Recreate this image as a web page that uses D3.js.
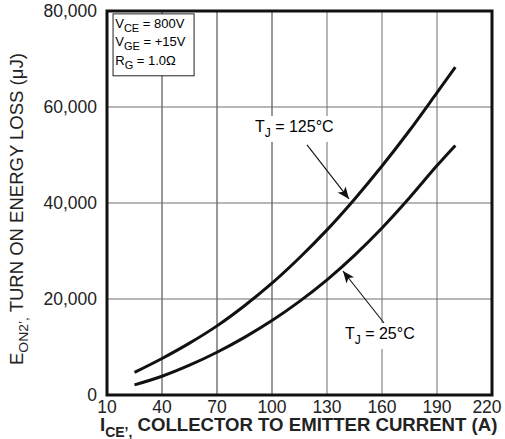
<!DOCTYPE html>
<html>
<head>
<meta charset="utf-8">
<script src="https://cdn.jsdelivr.net/npm/d3@7"></script>
<style>
  body { margin: 0; background: #fff; }
  svg { display: block; font-family: "Liberation Sans", Arial, Helvetica, sans-serif; }
</style>
</head>
<body>
<script>
// data (A, uJ)
const currents = [25, 40, 55, 70, 85, 100, 115, 130, 145, 160, 175, 190, 200];
const loss125 = [4700, 7600, 10800, 14400, 18600, 23300, 28600, 34400, 40800, 47700, 55100, 63000, 68300];
const loss25 = [2100, 3900, 6200, 8900, 12000, 15500, 19500, 24000, 29100, 34800, 41100, 47800, 52000];

const xTicks = [10, 40, 70, 100, 130, 160, 190, 220];
const yTicks = [0, 20000, 40000, 60000, 80000];

// annotation anchors in data units: label pos, arrow start, arrow tip
const labels = ["125°C", "25°C"];
const labelAt = [[90.7, 54800], [139.8, 11670]];
const arrowFrom = [[119.1, 52100], [161.1, 15000]];
const arrowTo = [[142, 40850], [138.7, 25830]];

const conditions = [["V", "CE", " = 800V"], ["V", "GE", " = +15V"], ["R", "G", " = 1.0Ω"]];

const W = 505, H = 439;
const svg = d3.select("body").append("svg").attr("width", W).attr("height", H);

const x = d3.scaleLinear().domain([10, 220]).range([107, 492]);
const y = d3.scaleLinear().domain([0, 80000]).range([395, 11]);

// grid
svg.append("g").selectAll("line")
  .data(xTicks.slice(1, -1))
  .join("line")
  .attr("x1", d => x(d)).attr("x2", d => x(d))
  .attr("y1", y(0)).attr("y2", y(80000))
  .attr("stroke", d => d <= 100 ? "#333" : "#6e6e6e")
  .attr("stroke-width", 1);

svg.append("g").selectAll("line")
  .data(yTicks.slice(1, -1))
  .join("line")
  .attr("x1", x(10)).attr("x2", x(220))
  .attr("y1", d => y(d)).attr("y2", d => y(d))
  .attr("stroke", "#6e6e6e")
  .attr("stroke-width", 1);

// conditions box
const box = svg.append("g");
box.append("rect")
  .attr("x", x(13.3)).attr("y", y(79400))
  .attr("width", x(57.5) - x(13.3)).attr("height", y(66500) - y(79400))
  .attr("fill", "#fff").attr("stroke", "#222").attr("stroke-width", 1);
conditions.forEach((c, i) => {
  const t = box.append("text")
    .attr("x", x(14.5)).attr("y", y(76500 - i * 3850))
    .attr("font-size", 13);
  t.append("tspan").text(c[0]);
  t.append("tspan").attr("font-size", 11).attr("dy", 4).text(c[1]);
  t.append("tspan").attr("dy", -4).text(c[2]);
});

// curves
const line = d3.line().x(d => x(d[0])).y(d => y(d[1])).curve(d3.curveCatmullRom.alpha(0.5));
[loss125, loss25].forEach(s => {
  svg.append("path")
    .datum(currents.map((c, i) => [c, s[i]]))
    .attr("d", line)
    .attr("fill", "none")
    .attr("stroke", "#111")
    .attr("stroke-width", 3);
});

// arrow marker
svg.append("defs").append("marker")
  .attr("id", "head")
  .attr("viewBox", "0 0 12 10")
  .attr("refX", 12).attr("refY", 5)
  .attr("markerWidth", 13).attr("markerHeight", 10)
  .attr("markerUnits", "userSpaceOnUse")
  .attr("orient", "auto")
  .append("path").attr("d", "M0,0 L12,5 L0,10 L3,5 Z").attr("fill", "#111");

labels.forEach((lab, i) => {
  const g = svg.append("g");
  const t = g.append("text")
    .attr("x", x(labelAt[i][0])).attr("y", y(labelAt[i][1]))
    .attr("font-size", 16);
  t.append("tspan").text("T");
  t.append("tspan").attr("font-size", 12).attr("dy", 5).text("J");
  t.append("tspan").attr("dy", -5).text(" = " + lab);
  const bb = t.node().getBBox();
  g.insert("rect", "text")
    .attr("x", bb.x - 3).attr("y", bb.y - 2)
    .attr("width", bb.width + 6).attr("height", bb.height + 4)
    .attr("fill", "#fff");
  g.append("line")
    .attr("x1", x(arrowFrom[i][0])).attr("y1", y(arrowFrom[i][1]))
    .attr("x2", x(arrowTo[i][0])).attr("y2", y(arrowTo[i][1]))
    .attr("stroke", "#111").attr("stroke-width", 1.1)
    .attr("marker-end", "url(#head)");
});

// frame
svg.append("rect")
  .attr("x", x(10)).attr("y", y(80000))
  .attr("width", x(220) - x(10)).attr("height", y(0) - y(80000))
  .attr("fill", "none").attr("stroke", "#111").attr("stroke-width", 3);

// tick labels
svg.append("g").selectAll("text")
  .data(yTicks)
  .join("text")
  .attr("x", 97).attr("y", d => y(d) + 6)
  .attr("text-anchor", "end")
  .attr("font-size", 17.5)
  .attr("fill", "#222")
  .text(d => d3.format(",")(d));

svg.append("g").selectAll("text")
  .data(xTicks)
  .join("text")
  .attr("x", d => Math.min(x(d), 487)).attr("y", 413)
  .attr("text-anchor", "middle")
  .attr("font-size", 17.5)
  .attr("fill", "#222")
  .text(d => d);

// axis titles
const xt = svg.append("text")
  .attr("x", 100).attr("y", 431)
  .attr("font-size", 18.6).attr("font-weight", "bold").attr("fill", "#222");
xt.append("tspan").text("I");
xt.append("tspan").attr("font-size", 14).attr("dy", 6).text("CE’,");
xt.append("tspan").attr("dy", -6).text(" COLLECTOR TO EMITTER CURRENT (A)");

const yt = svg.append("text")
  .attr("font-size", 18).attr("fill", "#222");
yt.append("tspan").text("E");
yt.append("tspan").attr("font-size", 13.5).attr("dy", 5).text("ON2’,");
yt.append("tspan").attr("dy", -5).text(" TURN ON ENERGY LOSS (μJ)");
// stretch along its length so it runs from y=365 up to y=53 like the original
const ytLen = yt.node().getBBox().width;
yt.attr("transform", `translate(23,365) rotate(-90) scale(${312 / ytLen},1)`);
</script>
</body>
</html>
